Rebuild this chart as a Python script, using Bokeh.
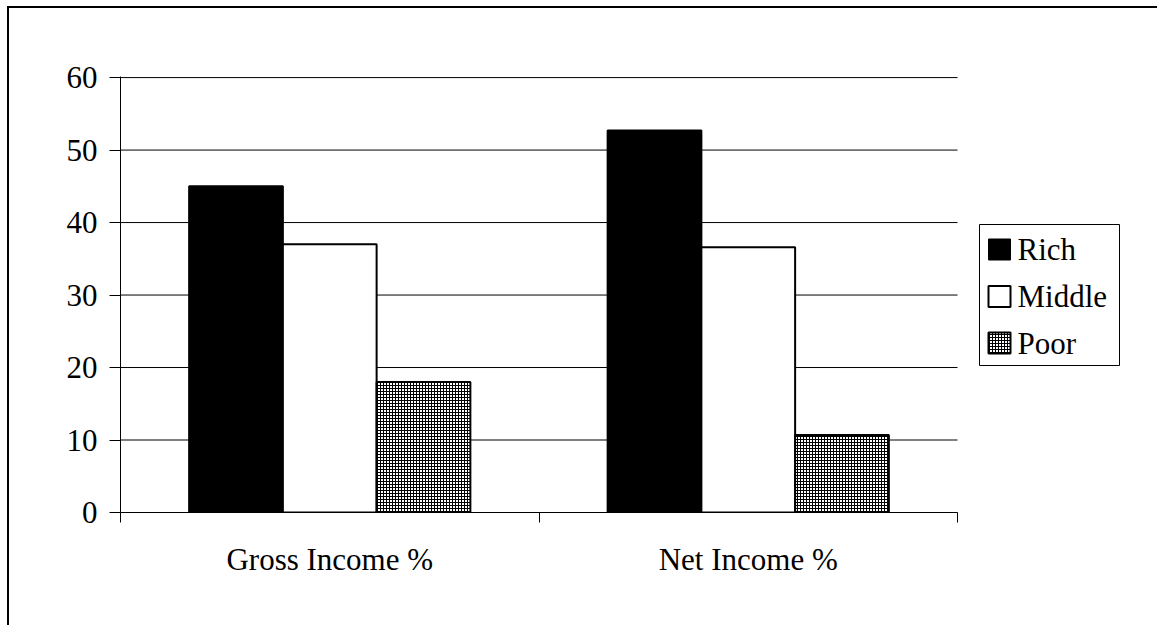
from bokeh.plotting import figure
from bokeh.models import Range1d, FixedTicker, ColumnDataSource, Label
from bokeh.embed import file_html
from bokeh.resources import INLINE

# ---- data ----
categories = ["Gross Income %", "Net Income %"]
series_names = ["Rich", "Middle", "Poor"]
rich = [45.0, 52.7]
middle = [37.0, 36.6]
poor = [18.0, 10.7]
y_ticks = [0, 10, 20, 30, 40, 50, 60]

FONT = "Liberation Serif"
FS = "31px"
BAR_W = 0.224

# ---- layout constants (page pixels) ----
CANVAS_X0, CANVAS_Y0 = 9, 8           # canvas origin after the outer frame border
FRAME_L, FRAME_T = 111, 68            # borders inside the canvas
CAT_PX = 837                          # pixels used by the categories
FRAME_W, FRAME_H = 1037, 436
Y_END = 60.15
x_end = len(categories) * FRAME_W / CAT_PX


def px2x(px):
    return (px - CANVAS_X0 - FRAME_L) * len(categories) / CAT_PX


def py2y(py):
    bottom = CANVAS_Y0 + FRAME_T + FRAME_H
    return (bottom - py) * Y_END / FRAME_H


p = figure(frame_width=FRAME_W, frame_height=FRAME_H, output_backend="svg",
           toolbar_location=None,
           x_range=Range1d(0, x_end), y_range=Range1d(0, Y_END),
           min_border_left=FRAME_L, min_border_right=0, min_border_top=FRAME_T,
           min_border_bottom=113)
p.outline_line_color = None
p.background_fill_color = "white"
p.border_fill_color = "white"
# outer chart frame (left and top edges visible in the window)
p.styles = {"margin-left": "7px", "margin-top": "6px",
            "border-left": "2px solid black", "border-top": "2px solid black"}

# horizontal gridlines across the category area only
p.xgrid.grid_line_color = None
p.ygrid.grid_line_color = None
p.segment(x0=0, x1=len(categories), y0=y_ticks, y1=y_ticks,
          line_color="black", line_width=1)

centers = [i + 0.5 for i in range(len(categories))]
styles = [
    dict(fill_color="black", line_color="black"),
    dict(fill_color="white", line_color="black"),
    dict(fill_color="white", line_color="black", hatch_pattern="+",
         hatch_scale=3, hatch_weight=1, hatch_color="black"),
]
for j, (name, vals) in enumerate(zip(series_names, [rich, middle, poor])):
    src = ColumnDataSource(dict(x=[c + (j - 1) * BAR_W for c in centers], top=vals))
    p.vbar(x="x", top="top", bottom=0, width=BAR_W, source=src, line_width=2,
           **styles[j])

# y axis
p.yaxis.ticker = FixedTicker(ticks=y_ticks)
p.yaxis.axis_line_color = "black"
p.yaxis.major_tick_line_color = "black"
p.yaxis.major_tick_out = 11
p.yaxis.major_tick_in = 0
p.yaxis.minor_tick_line_color = None
p.yaxis.major_label_text_font = FONT
p.yaxis.major_label_text_font_size = FS
p.yaxis.major_label_text_color = "black"
p.yaxis.major_label_standoff = 12

# x axis: labels at centers, ticks at boundaries
p.xaxis.bounds = (0, len(categories))
p.xaxis.ticker = FixedTicker(ticks=centers, minor_ticks=list(range(len(categories) + 1)))
p.xaxis.major_label_overrides = {c: cat for c, cat in zip(centers, categories)}
p.xaxis.axis_line_color = "black"
p.xaxis.major_tick_line_color = None
p.xaxis.major_tick_out = 0
p.xaxis.major_tick_in = 0
p.xaxis.minor_tick_line_color = "black"
p.xaxis.minor_tick_out = 10
p.xaxis.minor_tick_in = 0
p.xaxis.major_label_text_font = FONT
p.xaxis.major_label_text_font_size = FS
p.xaxis.major_label_text_color = "black"
p.xaxis.major_label_standoff = 19

# ---- legend (drawn by hand) ----
p.quad(left=px2x(979), right=px2x(1119), top=py2y(224), bottom=py2y(365),
       fill_color="white", line_color="black", line_width=1)
row_centers = [249, 296, 342.5]
for j, name in enumerate(series_names):
    c = row_centers[j]
    p.quad(left=px2x(988), right=px2x(1010), top=py2y(c - 10.5), bottom=py2y(c + 10.5),
           line_width=2 if j else 1, **styles[j])
    p.add_layout(Label(x=px2x(1017), y=py2y(c), text=name, text_font=FONT,
                       text_font_size=FS, text_color="black",
                       text_baseline="middle", text_align="left"))

open("out.html", "w").write(file_html(p, INLINE))
